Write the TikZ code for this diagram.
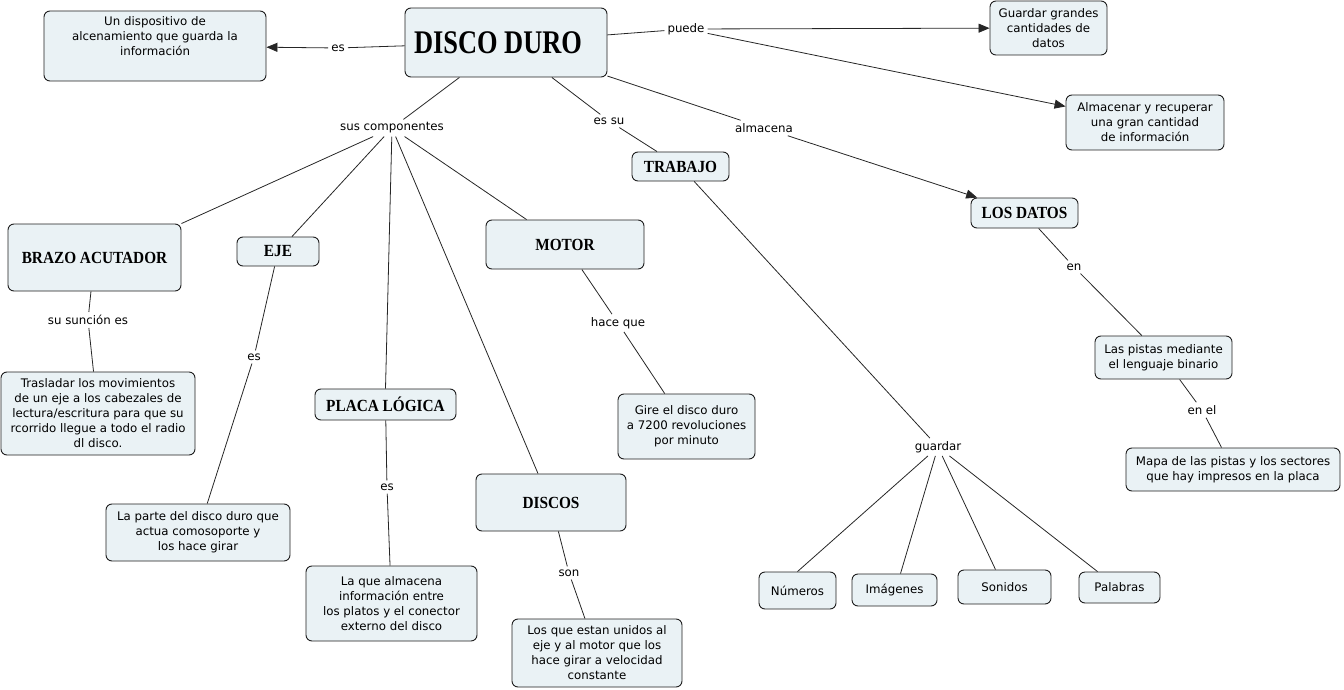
\documentclass[tikz,border=0pt]{standalone}
\usepackage{fontspec}
\setmainfont{DejaVu Sans}
\newfontfamily\titlefont{Liberation Serif}
\usepackage{graphicx}
\usetikzlibrary{arrows.meta,calc}
\definecolor{boxfill}{RGB}{234,242,245}
\definecolor{boxline}{RGB}{30,30,30}
\newcommand\ttl[1]{\scalebox{0.9}[1]{\titlefont\bfseries\fontsize{17}{17}\selectfont #1}}
\newcommand\bodyfont{\fontsize{11.8}{15}\selectfont}
\tikzset{
  box/.style={draw=boxline, fill=boxfill, rounded corners=6pt, line width=0.9pt, align=center, inner sep=2pt, font=\bodyfont},
  lbl/.style={inner sep=3pt, font=\bodyfont},
  conn/.style={line width=0.8pt, draw=black!85},
  arr/.style={conn, -{Triangle[length=11pt,width=9pt]}},
}
\begin{document}
\begin{tikzpicture}[x=1pt,y=-1pt]
\useasboundingbox (0,0) rectangle (1344,690);
% concept boxes
\node[box, minimum width=222, minimum height=70] (def) at (155,46)
  {\parbox[c][58pt][t]{216pt}{\centering Un dispositivo de\\alcenamiento que guarda la\\información}};
\node[box, minimum width=202, minimum height=69] (dd) at (506,42.5)
  {\hbox{\scalebox{0.8}[1]{\titlefont\bfseries\fontsize{33}{33}\selectfont DISCO DURO}\kern16pt}};
\node[box, minimum width=117, minimum height=54] (grand) at (1048.5,28) {Guardar grandes\\cantidades de\\datos};
\node[box, minimum width=158, minimum height=55] (almrec) at (1145,122.5) {Almacenar y recuperar\\una gran cantidad\\de información};
\node[box, minimum width=97, minimum height=29] (trabajo) at (680.5,166.5) {\ttl{TRABAJO}};
\node[box, minimum width=107, minimum height=30] (datos) at (1024.5,213) {\ttl{LOS DATOS}};
\node[box, minimum width=173, minimum height=67] (brazo) at (94.5,257.5) {\ttl{BRAZO ACUTADOR}};
\node[box, minimum width=82, minimum height=29] (eje) at (278,251.5) {\ttl{EJE}};
\node[box, minimum width=158, minimum height=49] (motor) at (565,244.5) {\ttl{MOTOR}};
\node[box, minimum width=194, minimum height=83] (trasl) at (98,413.5) {Trasladar los movimientos\\de un eje a los cabezales de\\lectura/escritura para que su\\rcorrido llegue a todo el radio\\dl disco.};
\node[box, minimum width=141, minimum height=31] (placa) at (385.5,404.5) {\ttl{PLACA LÓGICA}};
\node[box, minimum width=137, minimum height=65] (gire) at (686.5,426.5) {Gire el disco duro\\a 7200 revoluciones\\por minuto};
\node[box, minimum width=137, minimum height=43] (pistas) at (1163.5,357.5) {Las pistas mediante\\el lenguaje binario};
\node[box, minimum width=214, minimum height=43] (mapa) at (1233,469.5) {Mapa de las pistas y los sectores\\que hay impresos en la placa};
\node[box, minimum width=184, minimum height=57] (parte) at (198,532.5) {La parte del disco duro que\\actua comosoporte y\\los hace girar};
\node[box, minimum width=150, minimum height=57] (discos) at (551,502.5) {\ttl{DISCOS}};
\node[box, minimum width=171, minimum height=75] (laque) at (391.5,603.5) {La que almacena\\información entre\\los platos y el conector\\externo del disco};
\node[box, minimum width=170, minimum height=68] (losque) at (597,653) {Los que estan unidos al\\eje y al motor que los\\hace girar a velocidad\\constante};
\node[box, minimum width=77, minimum height=37] (num) at (797.5,590.5) {Números};
\node[box, minimum width=85, minimum height=32] (img) at (894.5,590) {Imágenes};
\node[box, minimum width=93, minimum height=34] (son) at (1004.5,587) {Sonidos};
\node[box, minimum width=81, minimum height=31] (pal) at (1119.5,587.5) {Palabras};
% link labels
\node[lbl] (les) at (338,48) {es};
\node[lbl] (lpuede) at (686,29) {puede};
\node[lbl] (lsus) at (392,128) {sus componentes};
\node[lbl] (lessu) at (609,121) {es su};
\node[lbl] (lalm) at (764,128) {almacena};
\node[lbl] (len) at (1074,267) {en};
\node[lbl] (lenel) at (1202,410) {en el};
\node[lbl] (lguar) at (938,447) {guardar};
\node[lbl] (lsun) at (88,320) {su sunción es};
\node[lbl] (leseje) at (254,357) {es};
\node[lbl] (lespl) at (387,487) {es};
\node[lbl] (lhace) at (618,323) {hace que};
\node[lbl] (lson) at (569,573) {son};
% connectors
\draw[conn] (dd) -- (les);
\draw[arr] (les) -- (def);
\draw[conn] (dd) -- (lpuede);
\draw[arr] (lpuede) -- (grand);
\draw[arr] (lpuede) -- (almrec);
\draw[conn] (dd) -- (lsus);
\draw[conn] (lsus) -- (brazo.north east);
\draw[conn] (lsus) -- ($(eje.north)+(14,0)$);
\draw[conn] (lsus) -- (placa.north);
\draw[conn] (lsus) -- ($(discos.north)+(-13,0)$);
\draw[conn] (lsus) -- ($(motor.north west)+(41,0)$);
\draw[conn] (dd) -- (lessu);
\draw[conn] (lessu) -- (trabajo);
\draw[conn] (dd) -- (lalm);
\draw[arr] (lalm) -- (datos);
\draw[conn] (trabajo) -- (lguar);
\draw[conn] (lguar) -- (num.north);
\draw[conn] (lguar) -- ($(img.north)+(6,0)$);
\draw[conn] (lguar) -- ($(son.north)+(-9,0)$);
\draw[conn] (lguar) -- ($(pal.north)+(-22,0)$);
\draw[conn] (datos) -- (len);
\draw[conn] (len) -- (pistas);
\draw[conn] (pistas) -- (lenel);
\draw[conn] (lenel) -- (mapa);
\draw[conn] (brazo) -- (lsun);
\draw[conn] (lsun) -- (trasl);
\draw[conn] (eje) -- (leseje);
\draw[conn] (leseje) -- (parte);
\draw[conn] (placa) -- (lespl);
\draw[conn] (lespl) -- (laque);
\draw[conn] (motor) -- (lhace);
\draw[conn] (lhace) -- (gire);
\draw[conn] (discos) -- (lson);
\draw[conn] (lson) -- (losque);
\end{tikzpicture}
\end{document}
